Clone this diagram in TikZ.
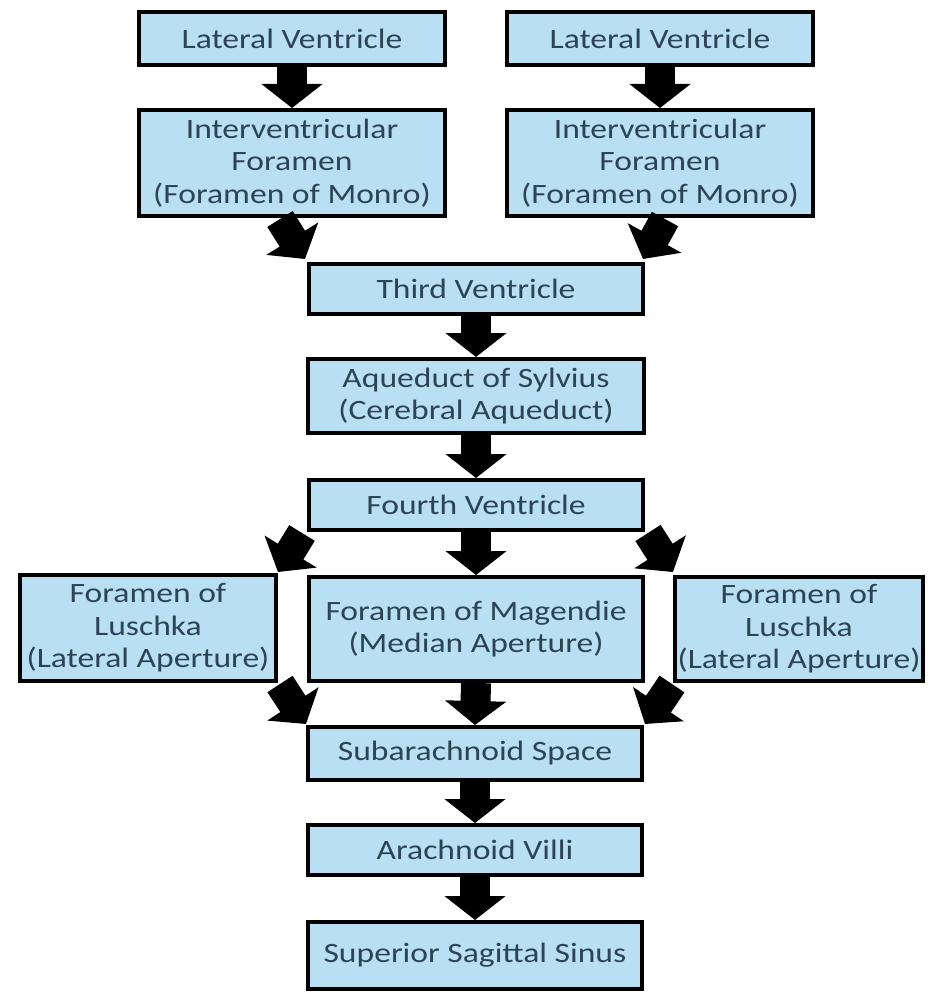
\documentclass[tikz,border=0pt]{standalone}
\usepackage{fontspec}
\setmainfont[FakeStretch=1.2]{Carlito}
\usetikzlibrary{arrows.meta}
\definecolor{boxfill}{RGB}{185,223,242}
\definecolor{boxtext}{RGB}{44,68,84}
\tikzset{
  box/.style={draw=black, line width=4pt, fill=boxfill, text=boxtext,
    inner sep=0pt, align=center,
    font=\fontsize{28}{32.5}\selectfont},
  blk/.style={draw=black, line width=30pt,
    -{Triangle[width=60pt,length=24pt]}},
}
\begin{document}
\begin{tikzpicture}[x=1pt,y=-1pt]
\useasboundingbox (0,0) rectangle (928,995);
% boxes
\node[box, minimum width=306pt, minimum height=53pt] (lvl) at (292,38.5) {Lateral Ventricle};
\node[box, minimum width=306pt, minimum height=53pt] (lvr) at (660,38.5) {Lateral Ventricle};
\node[box, minimum width=306pt, minimum height=106pt] (ifl) at (292,163) {Interventricular\\Foramen\\(Foramen of Monro)};
\node[box, minimum width=306pt, minimum height=106pt] (ifr) at (660,163) {Interventricular\\Foramen\\(Foramen of Monro)};
\node[box, minimum width=334pt, minimum height=50pt] (tv) at (476,289) {Third Ventricle};
\node[box, minimum width=336pt, minimum height=74pt] (aq) at (476,396) {Aqueduct of Sylvius\\(Cerebral Aqueduct)};
\node[box, minimum width=334pt, minimum height=50pt] (fv) at (476,505) {Fourth Ventricle};
\node[box, minimum width=256pt, minimum height=106pt] (ll) at (148,628) {Foramen of\\Luschka\\(Lateral Aperture)};
\node[box, minimum width=334pt, minimum height=104pt] (mg) at (476,629) {Foramen of Magendie\\(Median Aperture)};
\node[box, minimum width=248pt, minimum height=104pt] (lr) at (799,629) {Foramen of\\Luschka\\(Lateral Aperture)};
\node[box, minimum width=334pt, minimum height=53pt] (sa) at (475,753.5) {Subarachnoid Space};
\node[box, minimum width=334pt, minimum height=50pt] (av) at (475,850) {Arachnoid Villi};
\node[box, minimum width=334pt, minimum height=67pt] (ss) at (475,955.5) {Superior Sagittal Sinus};
% arrow end points for diagonal arrows
\coordinate (d1s) at (280,219);
\coordinate (d1e) at (305,259);
\coordinate (d2s) at (665,219);
\coordinate (d2e) at (643,259);
\coordinate (d3s) at (302,533);
\coordinate (d3e) at (278,572);
\coordinate (d4s) at (648,533);
\coordinate (d4e) at (673,572);
\coordinate (d5s) at (280,684);
\coordinate (d5e) at (306,724);
\coordinate (d6s) at (672,684);
\coordinate (d6e) at (645,724);
% vertical arrows
\draw[blk] (lvl.south) -- (ifl.north);
\draw[blk] (lvr.south) -- (ifr.north);
\draw[blk] (tv.south) -- (aq.north);
\draw[blk] (aq.south) -- (fv.north);
\draw[blk] (fv.south) -- (mg.north);
\draw[blk] (mg.south) -- (sa.north);
\draw[blk] (sa.south) -- (av.north);
\draw[blk] (av.south) -- (ss.north);
% diagonal arrows
\draw[blk] (d1s) -- (d1e);
\draw[blk] (d2s) -- (d2e);
\draw[blk] (d3s) -- (d3e);
\draw[blk] (d4s) -- (d4e);
\draw[blk] (d5s) -- (d5e);
\draw[blk] (d6s) -- (d6e);
\end{tikzpicture}
\end{document}
